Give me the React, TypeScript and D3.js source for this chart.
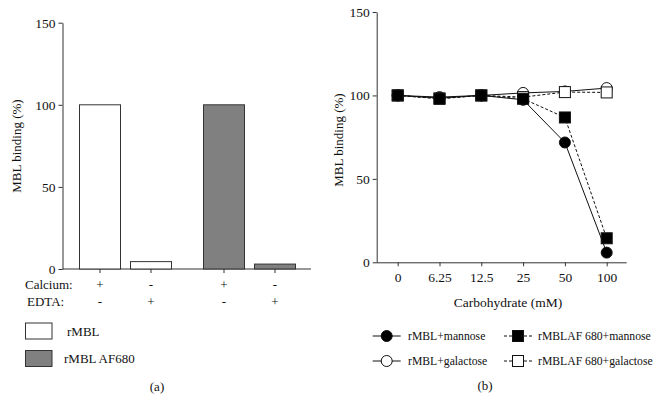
import React, { useEffect, useRef } from 'react';
import * as d3 from 'd3';

// panel (a)
const barGroups = ['rMBL', 'rMBL AF680'];
const calcium = ['+', '-', '+', '-'];
const edta = ['-', '+', '-', '+'];
const barValues = [100, 4.5, 100, 3];
const barGroupOf = [0, 0, 1, 1];
const barFills = ['#ffffff', '#808080'];

// panel (b)
const concentrations = ['0', '6.25', '12.5', '25', '50', '100'];
const seriesNames = ['rMBL+mannose', 'rMBL+galactose', 'rMBLAF 680+mannose', 'rMBLAF 680+galactose'];
const rmblMannose = [100, 98.4, 100, 97.4, 71.8, 5.8];
const rmblGalactose = [100, 99, 100, 101.5, 102.4, 104.4];
const afMannose = [100, 98, 100, 98, 86.8, 14.4];
const afGalactose = [100, 98.2, 100, 99, 102, 101.8];
const yTicks = [0, 50, 100, 150];

const FONT = '"Liberation Serif", "DejaVu Serif", serif';

const App = () => {
    const svgRef = useRef<SVGSVGElement>(null);
    const width = 656;
    const height = 412;

    useEffect(() => {
        const svg = d3.select(svgRef.current)
            .attr('width', width)
            .attr('height', height)
            .attr('font-family', FONT)
            .style('font-family', FONT);
        svg.selectAll('*').remove();

        const txt = (g, x, y, s, size = 13, anchor = 'start') =>
            g.append('text')
                .attr('x', x).attr('y', y)
                .attr('font-family', FONT)
                .attr('font-size', size)
                .attr('fill', '#111')
                .attr('text-anchor', anchor)
                .text(s);

        // ---------- panel (a) ----------
        const ya = d3.scaleLinear().domain([0, 150]).range([269, 22.7]);
        const xa = d3.scaleOrdinal<number, number>().domain([0, 1, 2, 3]).range([100, 151, 224, 275]);
        const barW = 41;

        const ga = svg.append('g');
        ga.append('g')
            .attr('transform', 'translate(62.5,0)')
            .call(d3.axisLeft(ya).tickValues(yTicks).tickSize(4).tickSizeOuter(0))
            .call(g => g.attr('font-family', FONT))
            .call(g => g.selectAll('text').attr('font-size', 13.5).attr('font-family', FONT).attr('fill', '#111'))
            .call(g => g.selectAll('line,path').attr('stroke', '#333'));
        ga.append('line')
            .attr('x1', 62.5).attr('x2', 311)
            .attr('y1', ya(0)).attr('y2', ya(0))
            .attr('stroke', '#333');

        ga.selectAll('.bar')
            .data(barValues)
            .enter()
            .append('rect')
            .attr('x', (d, i) => xa(i) - barW / 2)
            .attr('y', d => ya(d))
            .attr('width', barW)
            .attr('height', d => ya(0) - ya(d))
            .attr('fill', (d, i) => barFills[barGroupOf[i]])
            .attr('stroke', '#333')
            .attr('stroke-width', 1);

        ga.selectAll('.xtick')
            .data(barValues)
            .enter()
            .append('line')
            .attr('x1', (d, i) => xa(i)).attr('x2', (d, i) => xa(i))
            .attr('y1', ya(0)).attr('y2', ya(0) + 4)
            .attr('stroke', '#333');

        txt(ga, 25, 289, 'Calcium:');
        txt(ga, 27, 306, 'EDTA:');
        calcium.forEach((s, i) => txt(ga, xa(i), 289, s, 13, 'middle'));
        edta.forEach((s, i) => txt(ga, xa(i), 306, s, 13, 'middle'));

        txt(ga, 0, 0, 'MBL binding (%)', 13, 'middle')
            .attr('transform', `translate(21,146) rotate(-90)`);

        barGroups.forEach((name, i) => {
            const y0 = 323 + i * 27.5;
            ga.append('rect')
                .attr('x', 25.5).attr('y', y0)
                .attr('width', 26.5).attr('height', 16)
                .attr('fill', barFills[i])
                .attr('stroke', '#333');
            txt(ga, i === 0 ? 67 : 64, y0 + 12.5, name);
        });
        txt(ga, 157, 391, '(a)', 13, 'middle');

        // ---------- panel (b) ----------
        const yb = d3.scaleLinear().domain([0, 150]).range([262.3, 12]);
        const xb = d3.scalePoint().domain(concentrations).range([397.7, 606.7]);

        const gb = svg.append('g');
        gb.append('g')
            .attr('transform', 'translate(376.7,0)')
            .call(d3.axisLeft(yb).tickValues(yTicks).tickSize(4).tickSizeOuter(0))
            .call(g => g.attr('font-family', FONT))
            .call(g => g.selectAll('text').attr('font-size', 13.5).attr('font-family', FONT).attr('fill', '#111'))
            .call(g => g.selectAll('line,path').attr('stroke', '#333'));
        gb.append('g')
            .attr('transform', `translate(0,${yb(0)})`)
            .call(d3.axisBottom(xb).tickSize(4).tickSizeOuter(0))
            .call(g => g.attr('font-family', FONT))
            .call(g => g.select('.domain').attr('d', `M376.7,0.5H626.7`))
            .call(g => g.selectAll('text').attr('font-size', 13.5).attr('font-family', FONT).attr('fill', '#111').attr('dy', '0.95em'))
            .call(g => g.selectAll('line,path').attr('stroke', '#333'));

        txt(gb, 0, 0, 'MBL binding (%)', 13, 'middle')
            .attr('transform', `translate(343,140) rotate(-90)`);
        txt(gb, 508, 307, 'Carbohydrate (mM)', 13.5, 'middle');

        const series = [
            { values: rmblMannose, shape: 'circle', fill: '#000', dash: null },
            { values: rmblGalactose, shape: 'circle', fill: '#fff', dash: null },
            { values: afMannose, shape: 'square', fill: '#000', dash: '3,2' },
            { values: afGalactose, shape: 'square', fill: '#fff', dash: '3,2' }
        ];
        const line = d3.line<number>()
            .x((d, i) => xb(concentrations[i]) as number)
            .y(d => yb(d));

        const drawMarker = (g, shape, fill, cx, cy) => {
            if (shape === 'circle') {
                g.append('circle')
                    .attr('cx', cx).attr('cy', cy).attr('r', 5.5)
                    .attr('fill', fill).attr('stroke', '#111').attr('stroke-width', 1);
            } else {
                g.append('rect')
                    .attr('x', cx - 5.5).attr('y', cy - 5.5)
                    .attr('width', 11).attr('height', 11)
                    .attr('fill', fill).attr('stroke', '#111').attr('stroke-width', 1);
            }
        };

        // galactose series drawn first so the mannose markers sit on top
        [1, 3, 0, 2].forEach(k => {
            const s = series[k];
            gb.append('path')
                .datum(s.values)
                .attr('fill', 'none')
                .attr('stroke', '#111')
                .attr('stroke-width', 1)
                .attr('stroke-dasharray', s.dash)
                .attr('d', line);
        });
        [1, 3, 0, 2].forEach(k => {
            const s = series[k];
            s.values.forEach((v, i) => drawMarker(gb, s.shape, s.fill, xb(concentrations[i]), yb(v)));
        });

        // legend
        seriesNames.forEach((name, k) => {
            const s = series[k];
            const col = k < 2 ? 0 : 1;
            const row = k % 2;
            const cx = col === 0 ? 386.7 : 518;
            const cy = 336 + row * 25;
            gb.append('line')
                .attr('x1', cx - 14).attr('x2', cx + 14)
                .attr('y1', cy).attr('y2', cy)
                .attr('stroke', '#111')
                .attr('stroke-dasharray', s.dash);
            drawMarker(gb, s.shape, s.fill, cx, cy);
            txt(gb, col === 0 ? 408 : 538, cy + 4, name, 11.7);
        });
        txt(gb, 485, 390, '(b)', 13, 'middle');
    }, []);

    return <svg ref={svgRef} style={{ position: 'absolute', left: 0, top: 0, background: '#fff' }}></svg>;
};

export default App;
